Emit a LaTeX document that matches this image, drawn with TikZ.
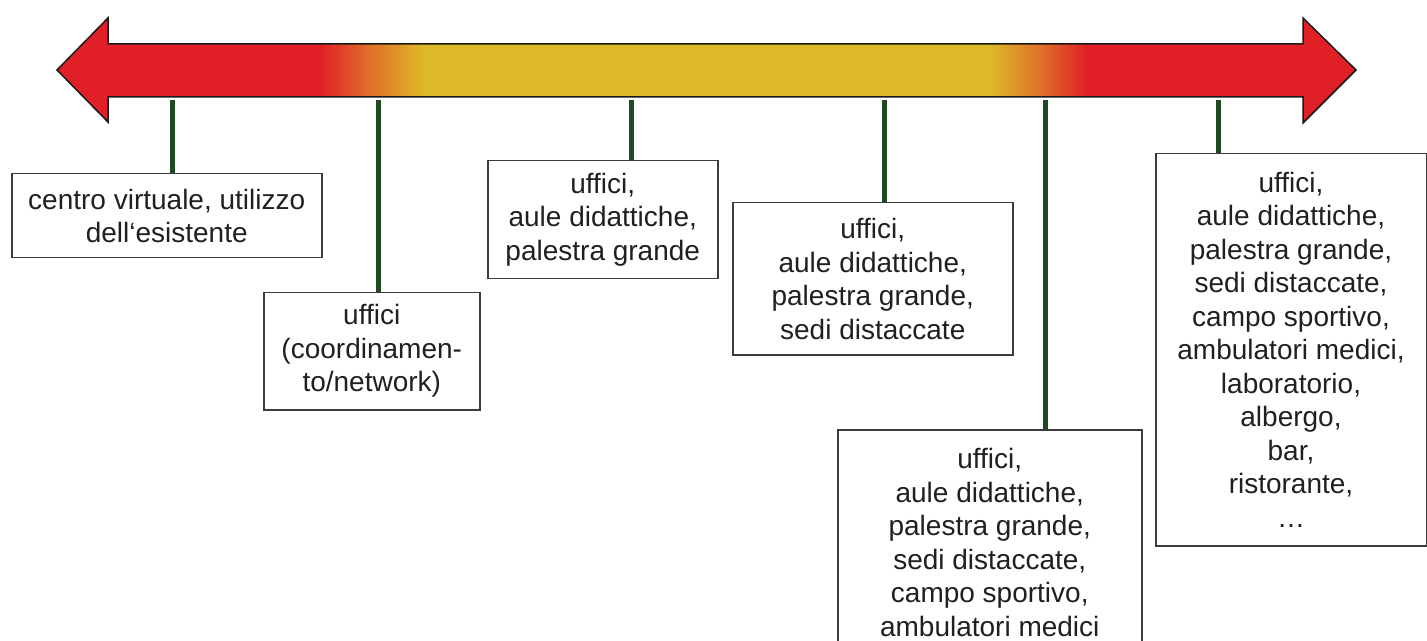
\documentclass[tikz,border=0pt]{standalone}
\usepackage{fontspec}
\setmainfont{Liberation Sans}
\usepackage{xcolor}
\usepackage{tikz}
\usetikzlibrary{positioning,calc}

\definecolor{barred}{HTML}{E01F26}
\definecolor{barorange}{HTML}{E0702A}
\definecolor{baryellow}{HTML}{DDB927}
\definecolor{stemgreen}{HTML}{1F4A24}
\definecolor{boxgray}{HTML}{3C3C3C}
\definecolor{txtgray}{HTML}{231F20}
\pgfdeclarehorizontalshading{barshade}{100bp}{color(0bp)=(barred); color(35.1bp)=(barred); color(37.05bp)=(barorange); color(39.1bp)=(baryellow); color(60.9bp)=(baryellow); color(62.85bp)=(barorange); color(64.65bp)=(barred); color(100bp)=(barred)}

\begin{document}
\begin{tikzpicture}[x=0.5pt,y=-0.5pt,
    infobox/.style={draw=boxgray, line width=0.75pt, fill=white, text=txtgray, align=center,
      anchor=north west, inner sep=0pt, font=\fontsize{14}{16.75}\selectfont},
    stemline/.style={draw=stemgreen, line width=2.5pt}]
        \useasboundingbox (0,0) rectangle (1427,641);
        \clip (0,0) rectangle (1427,641);

        % Double arrow
        \draw[shading=barshade, draw=black!90, line width=0.75pt, line join=miter]
          (57,70) -- (108,18) -- (108,44) -- (1303,44) -- (1303,18) -- (1356,70)
          -- (1303,123) -- (1303,97) -- (108,97) -- (108,122) -- cycle;

        % Stem tops
        \coordinate (t1) at (172,100);
        \coordinate (t2) at (378,100);
        \coordinate (t3) at (631,100);
        \coordinate (t4) at (884,100);
        \coordinate (t5) at (1045,100);
        \coordinate (t6) at (1218,100);

        % Boxes
        \node[infobox, minimum width=155pt, minimum height=42pt] (b1) at (11,173)
          {centro virtuale, utilizzo\\dell‘esistente};
        \node[infobox, minimum width=108pt, minimum height=58.5pt] (b2) at (263,292)
          {uffici\\(coordinamen-\\to/network)};
        \node[infobox, minimum width=115pt, minimum height=59pt] (b3) at (487,160)
          {uffici,\\aule didattiche,\\palestra grande};
        \node[infobox, minimum width=140pt, minimum height=76pt] (b4) at (732,202)
          {uffici,\\aule didattiche,\\palestra grande,\\sedi distaccate};
        \node[infobox, minimum width=152pt, minimum height=112.5pt] (b5) at (837,429)
          {uffici,\\aule didattiche,\\palestra grande,\\sedi distaccate,\\campo sportivo,\\ambulatori medici};
        \node[infobox, minimum width=135.25pt, minimum height=196pt] (b6) at (1155,153)
          {uffici,\\aule didattiche,\\palestra grande,\\sedi distaccate,\\campo sportivo,\\ambulatori medici,\\laboratorio,\\albergo,\\bar,\\ristorante,\\…};

        % Stems
        \foreach \i in {1,...,6}
          \draw[stemline] (t\i) -- (t\i |- b\i.north);
\end{tikzpicture}
\end{document}
